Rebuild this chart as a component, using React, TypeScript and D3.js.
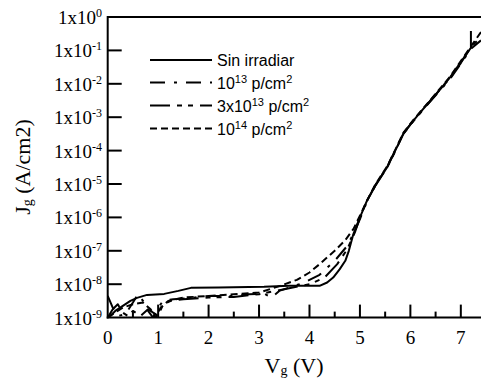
import React from 'react';
import * as d3 from 'd3';

// [Vg (V), log10 Jg (A/cm2)]
const sinIrradiar: [number, number][] = [
  [0.05, -8.95], [0.15, -8.8], [0.27, -8.68], [0.45, -8.5], [0.58, -8.41], [0.78, -8.32],
  [1.12, -8.29], [1.4, -8.2], [1.65, -8.11], [2.2, -8.1], [3.1, -8.08], [3.6, -8.05],
  [4.2, -8.05], [4.35, -7.95], [4.47, -7.8], [4.6, -7.55], [4.71, -7.3], [4.78, -7.0],
  [4.87, -6.5], [5.0, -6.0], [5.14, -5.5], [5.3, -5.05], [5.54, -4.5], [5.7, -4.0],
  [5.86, -3.5], [6.06, -3.1], [6.2, -2.85], [6.4, -2.5], [6.6, -2.15], [6.79, -1.8],
  [7.0, -1.35], [7.2, -0.92], [7.2, -0.42],
];
const dosis1e13: [number, number][] = [
  [0, -8.35], [0.1, -8.7], [0.2, -8.95], [0.35, -8.9], [0.5, -8.55], [0.6, -8.3],
  [0.7, -8.5], [0.8, -8.8], [0.9, -9.0], [1.0, -8.7], [1.1, -8.5], [1.3, -8.45],
  [1.6, -8.42], [2.0, -8.35], [2.4, -8.36], [2.8, -8.3], [3.1, -8.28], [3.25, -8.4],
  [3.4, -8.2], [3.6, -8.1], [3.9, -7.95], [4.2, -7.72], [4.5, -7.3], [4.75, -6.85],
  [4.9, -6.4], [5.0, -6.05], [5.14, -5.52], [5.3, -5.05], [5.54, -4.48], [5.7, -4.0],
  [5.86, -3.48], [6.06, -3.1], [6.4, -2.52], [6.79, -1.85], [7.0, -1.4], [7.2, -0.95],
  [7.4, -0.7],
];
const dosis3e13: [number, number][] = [
  [0, -9.0], [0.1, -8.75], [0.2, -8.6], [0.3, -8.85], [0.4, -8.95], [0.5, -8.8],
  [0.65, -8.95], [0.8, -8.75], [1.0, -8.95], [1.1, -8.6], [1.25, -8.5], [1.5, -8.45],
  [2.0, -8.4], [2.5, -8.38], [3.0, -8.3], [3.5, -8.15], [4.0, -8.0], [4.3, -7.8],
  [4.55, -7.4], [4.75, -6.95], [4.9, -6.45], [5.0, -6.0], [5.14, -5.5], [5.3, -5.07],
  [5.54, -4.5], [5.7, -4.02], [5.86, -3.5], [6.06, -3.12], [6.4, -2.5], [6.79, -1.82],
  [7.0, -1.38], [7.2, -0.9], [7.4, -0.6],
];
const dosis1e14: [number, number][] = [
  [0, -9.0], [0.15, -8.85], [0.3, -8.7], [0.5, -8.6], [0.7, -8.55], [0.85, -8.75],
  [0.95, -9.0], [1.05, -8.7], [1.2, -8.5], [1.5, -8.4], [2.0, -8.35], [2.5, -8.3],
  [3.0, -8.25], [3.42, -8.05], [3.75, -7.87], [4.0, -7.65], [4.2, -7.4], [4.5, -7.0],
  [4.71, -6.68], [4.87, -6.35], [5.0, -5.95], [5.14, -5.5], [5.3, -5.03], [5.54, -4.47],
  [5.7, -3.98], [5.86, -3.47], [6.06, -3.08], [6.4, -2.48], [6.79, -1.78], [7.0, -1.32],
  [7.2, -0.88], [7.4, -0.45],
];

const xTicks = [0, 1, 2, 3, 4, 5, 6, 7];
const xMinorTicks = [0.5, 1.5, 2.5, 3.5, 4.5, 5.5, 6.5];
const yExponents = [0, -1, -2, -3, -4, -5, -6, -7, -8, -9];

const series = [
  { name: 'sin', data: sinIrradiar, dash: undefined as string | undefined },
  { name: '1e13', data: dosis1e13, dash: '15,9,3,9' },
  { name: '3e13', data: dosis3e13, dash: '20,7,5,6,5,7' },
  { name: '1e14', data: dosis1e14, dash: '7,4' },
];

const App = () => {
  const width = 481;
  const height = 381;
  const left = 107.7;
  const top = 17;
  const bottom = 317.6;

  const x = d3.scaleLinear().domain([0, 7.4]).range([left, width]);
  const y = d3.scaleLog().domain([1e-9, 1]).range([bottom, top]);

  const line = d3.line<[number, number]>()
    .x(d => x(d[0]))
    .y(d => y(Math.pow(10, d[1])));

  const serif = '"Liberation Serif", "Times New Roman", serif';
  const sans = '"Liberation Sans", Arial, sans-serif';

  const legendX1 = 150;
  const legendX2 = 212;
  const legendY = [60, 82.5, 105.5, 128.5];

  return (
    <svg width={width} height={height} style={{ position: 'absolute', left: 0, top: 0, background: '#fff' }}>
      <defs>
        <clipPath id="plot">
          <rect x={left} y={top - 10} width={width - left} height={bottom - top + 10} />
        </clipPath>
      </defs>

      {/* curves */}
      <g clipPath="url(#plot)">
        {series.map(s => (
          <path key={s.name} d={line(s.data) || ''} fill="none" stroke="#000"
            strokeWidth={2} strokeDasharray={s.dash} strokeLinejoin="round" />
        ))}
      </g>

      {/* axes */}
      <line x1={left} x2={width} y1={top} y2={top} stroke="#000" strokeWidth={2} />
      <line x1={left} x2={left} y1={top - 1} y2={bottom + 1} stroke="#000" strokeWidth={2} />
      <line x1={left - 1} x2={width} y1={bottom} y2={bottom} stroke="#000" strokeWidth={2} />

      {xTicks.map(t => (
        <g key={'x' + t}>
          {t > 0 && <line x1={x(t)} x2={x(t)} y1={bottom} y2={bottom - 13} stroke="#000" strokeWidth={2} />}
          <text x={x(t)} y={344} textAnchor="middle" fontFamily={serif} fontSize={19}>{t}</text>
        </g>
      ))}
      {xMinorTicks.map(t => (
        <line key={'xm' + t} x1={x(t)} x2={x(t)} y1={bottom} y2={bottom - 6} stroke="#000" strokeWidth={2} />
      ))}

      {yExponents.map(e => (
        <g key={'y' + e}>
          {e < 0 && e > -9 && (
            <line x1={left} x2={left + 14} y1={y(Math.pow(10, e))} y2={y(Math.pow(10, e))} stroke="#000" strokeWidth={2} />
          )}
          <text x={102} y={y(Math.pow(10, e)) + 7} textAnchor="end" fontFamily={serif} fontSize={19}>
            1x10<tspan dy={-7} fontSize={12}>{e}</tspan>
          </text>
        </g>
      ))}

      {/* axis titles */}
      <text x={294} y={373} textAnchor="middle" fontFamily={serif} fontSize={22}>
        V<tspan fontSize={14} dy={2}>g</tspan><tspan dy={-2}> (V)</tspan>
      </text>
      <text transform="translate(30,167) rotate(-90)" textAnchor="middle" fontFamily={serif} fontSize={22}>
        J<tspan fontSize={14} dy={2}>g</tspan><tspan dy={-2}> (A/cm2)</tspan>
      </text>

      {/* legend */}
      {series.map((s, i) => (
        <line key={'lg' + s.name} x1={legendX1} x2={legendX2} y1={legendY[i]} y2={legendY[i]}
          stroke="#000" strokeWidth={2} strokeDasharray={s.dash} />
      ))}
      <g fontFamily={sans} fontSize={16}>
        <text x={217} y={legendY[0] + 6}>Sin irradiar</text>
        <text x={217} y={legendY[1] + 6}>10<tspan fontSize={11} dy={-6}>13</tspan><tspan dy={6}> p/cm</tspan><tspan fontSize={11} dy={-6}>2</tspan></text>
        <text x={217} y={legendY[2] + 6}>3x10<tspan fontSize={11} dy={-6}>13</tspan><tspan dy={6}> p/cm</tspan><tspan fontSize={11} dy={-6}>2</tspan></text>
        <text x={217} y={legendY[3] + 6}>10<tspan fontSize={11} dy={-6}>14</tspan><tspan dy={6}> p/cm</tspan><tspan fontSize={11} dy={-6}>2</tspan></text>
      </g>
    </svg>
  );
};

export default App;
